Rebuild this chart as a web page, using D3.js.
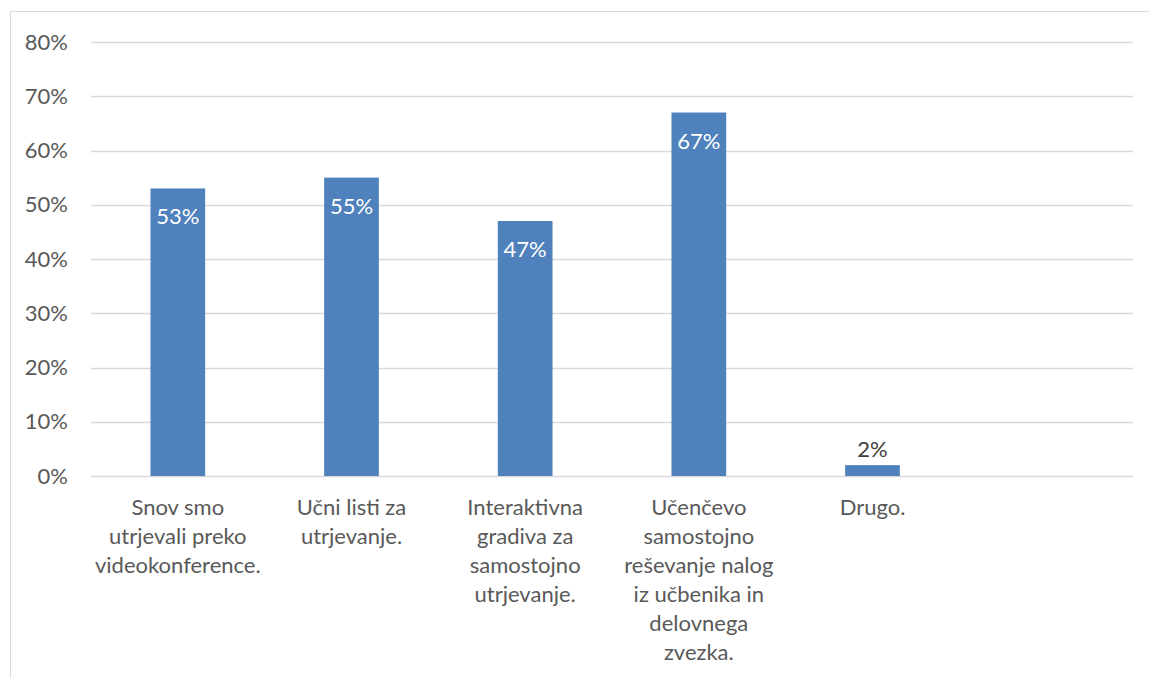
<!DOCTYPE html>
<html>
<head>
<meta charset="utf-8">
<script src="https://cdn.jsdelivr.net/npm/d3@7/dist/d3.min.js"></script>
<style>
  html, body { margin: 0; padding: 0; background: #fff; }
  svg { display: block; }
  text { font-family: Lato, "Open Sans", sans-serif; }
</style>
</head>
<body>
<svg id="chart" width="1149" height="678"></svg>
<script>
// Category labels (line breaks as shown under each bar)
const categories = [
  "Snov smo\nutrjevali preko\nvideokonference.",
  "Učni listi za\nutrjevanje.",
  "Interaktivna\ngradiva za\nsamostojno\nutrjevanje.",
  "Učenčevo\nsamostojno\nreševanje nalog\niz učbenika in\ndelovnega\nzvezka.",
  "Drugo.",
  ""
];
// Share of answers, in percent
const values = [53, 55, 47, 67, 2, null];
const yTicks = [0, 10, 20, 30, 40, 50, 60, 70, 80];

const svg = d3.select("#chart");
const W = 1149, H = 678;
const margin = { left: 91, right: 16, top: 42, bottom: 202 };
const fontSize = "22px";

// Chart frame (extends past the right and bottom edges)
svg.append("rect")
  .attr("x", 10.5).attr("y", 11.5)
  .attr("width", W + 20).attr("height", H + 20)
  .attr("fill", "none").attr("stroke", "#d9d9d9").attr("stroke-width", 1);

const x = d3.scaleBand()
  .domain(d3.range(categories.length))
  .range([margin.left, W - margin.right])
  .paddingInner(0.685).paddingOuter(0.3425);

const y = d3.scaleLinear().domain([0, 80]).range([H - margin.bottom, margin.top]);

// Gridlines
svg.append("g")
  .selectAll("line").data(yTicks).join("line")
  .attr("x1", margin.left).attr("x2", W - margin.right)
  .attr("y1", d => Math.round(y(d)) + 0.5).attr("y2", d => Math.round(y(d)) + 0.5)
  .attr("stroke", "#d9d9d9").attr("stroke-width", 1.3);

// Y axis labels
const yAxis = d3.axisLeft(y).tickValues(yTicks).tickFormat(d => d + "%").tickSize(0).tickPadding(0);
const gy = svg.append("g").attr("transform", `translate(68,0)`).call(yAxis);
gy.select(".domain").remove();
gy.selectAll("text")
  .attr("fill", "#595959").style("font-size", fontSize)
  .style("font-family", "Lato, 'Open Sans', sans-serif");

// Bars
const bars = categories.map((c, i) => ({ i, v: values[i] })).filter(d => d.v != null);
svg.append("g")
  .selectAll("rect").data(bars).join("rect")
  .attr("x", d => x(d.i))
  .attr("width", x.bandwidth())
  .attr("y", d => y(d.v))
  .attr("height", d => y(0) - y(d.v))
  .attr("fill", "#4f81bd");

// Value labels: inside the top of tall bars, above short ones
svg.append("g")
  .selectAll("text").data(bars).join("text")
  .attr("x", d => x(d.i) + x.bandwidth() / 2)
  .attr("y", d => d.v > 10 ? y(d.v) + 36 : y(d.v) - 8)
  .attr("text-anchor", "middle")
  .attr("fill", d => d.v > 10 ? "#ffffff" : "#404040")
  .style("font-size", fontSize)
  .text(d => d.v + "%");

// Category labels
const gx = svg.append("g");
categories.forEach((c, i) => {
  const t = gx.append("text")
    .attr("x", x(i) + x.bandwidth() / 2)
    .attr("y", y(0) + 39)
    .attr("text-anchor", "middle")
    .attr("fill", "#595959")
    .style("font-size", fontSize);
  c.split("\n").forEach((line, k) => {
    t.append("tspan")
      .attr("x", x(i) + x.bandwidth() / 2)
      .attr("dy", k === 0 ? 0 : 29)
      .text(line);
  });
});
</script>
</body>
</html>
